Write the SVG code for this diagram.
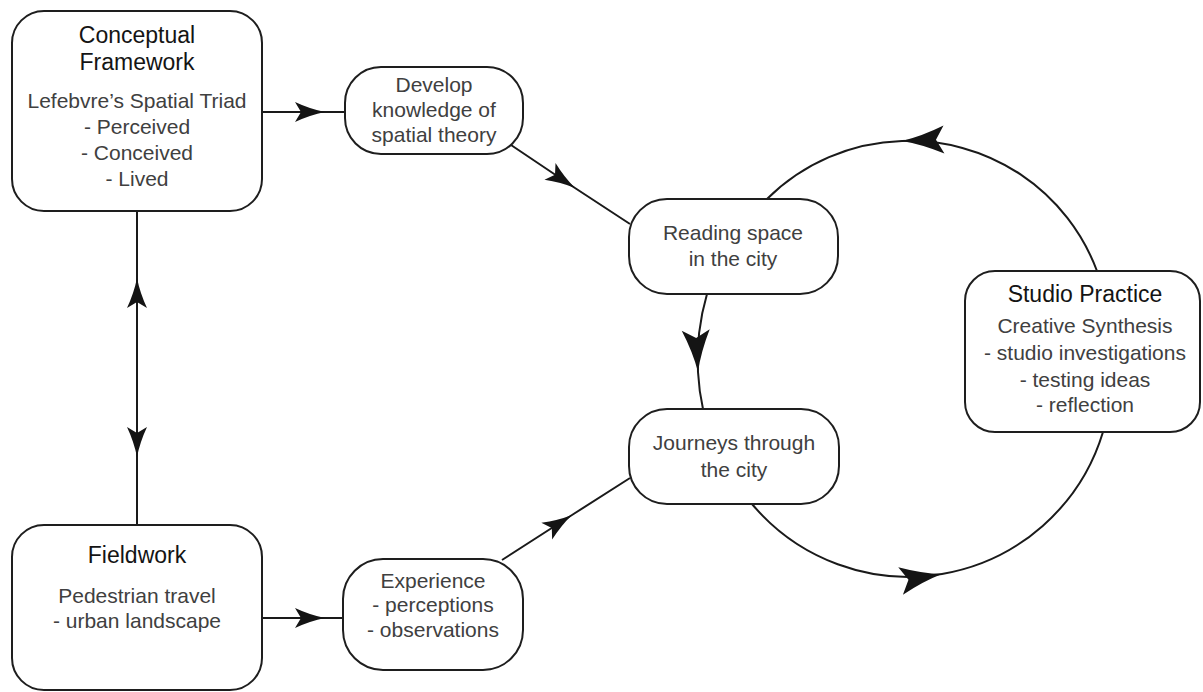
<svg xmlns="http://www.w3.org/2000/svg" width="1203" height="692" viewBox="0 0 1203 692">
<style>
.box{fill:#fff;stroke:#1e1e1e;stroke-width:2}
.t{font-family:"Liberation Sans",Arial,sans-serif;font-size:23px;fill:#141414;text-anchor:middle}
.b{font-family:"Liberation Sans",Arial,sans-serif;font-size:21px;fill:#404040;text-anchor:middle}
.c{fill:none;stroke:#1a1a1a;stroke-width:2}
.s{marker-mid:url(#ah)}
.l{marker-mid:url(#ahl)}
</style>
<defs>
<marker id="ah" markerUnits="userSpaceOnUse" viewBox="-32 -12 34 24" markerWidth="34" markerHeight="24" refX="0" refY="0" orient="auto" overflow="visible">
<path d="M0,0 Q-15,-3 -30,-10 L-24,0 L-30,10 Q-15,3 0,0 Z" fill="#141414"/>
</marker>
<marker id="ahl" markerUnits="userSpaceOnUse" viewBox="-44 -16 46 32" markerWidth="46" markerHeight="32" refX="0" refY="0" orient="auto" overflow="visible">
<path d="M0,0 Q-20,-4 -42,-14 L-34,0 L-42,14 Q-20,4 0,0 Z" fill="#141414"/>
</marker>
</defs>
<rect width="1203" height="692" fill="#fff"/>
<g id="connectors">
<path class="c s" d="M262,112 L325,112 L345,112"/>
<path class="c s" d="M511,145 L575,188 L630,224"/>
<path class="c s" d="M137,368 L137,278 L137,211"/>
<path class="c s" d="M137,368 L137,457 L137,525"/>
<path class="c s" d="M262,618 L325,618 L343,618"/>
<path class="c s" d="M502,560 L572,515 L630,478"/>
<path class="c l" d="M707,294 A233,233 0 0 0 698,372 A233,233 0 0 0 703,409"/>
<path class="c l" d="M752,504 A204,204 0 0 0 942,574 A204,204 0 0 0 1103,432"/>
<path class="c l" d="M1097,271 A200,200 0 0 0 902,141 A200,200 0 0 0 767,199"/>
</g>
<g id="conceptual">
<rect class="box" x="12" y="11" width="250" height="200" rx="32"/>
<text class="t" x="137" y="43">Conceptual</text>
<text class="t" x="137" y="70">Framework</text>
<text class="b" x="137" y="108">Lefebvre’s Spatial Triad</text>
<text class="b" x="137" y="134">- Perceived</text>
<text class="b" x="137" y="160">- Conceived</text>
<text class="b" x="137" y="186">- Lived</text>
</g>
<g id="develop">
<rect class="box" x="345" y="67" width="178" height="87" rx="36"/>
<text class="b" x="434" y="92">Develop</text>
<text class="b" x="434" y="117">knowledge of</text>
<text class="b" x="434" y="142">spatial theory</text>
</g>
<g id="reading">
<rect class="box" x="629" y="199" width="209" height="95" rx="38"/>
<text class="b" x="733" y="240">Reading space</text>
<text class="b" x="733" y="266">in the city</text>
</g>
<g id="journeys">
<rect class="box" x="629" y="409" width="210" height="95" rx="38"/>
<text class="b" x="734" y="450">Journeys through</text>
<text class="b" x="734" y="477">the city</text>
</g>
<g id="studio">
<rect class="box" x="965" y="271" width="235" height="161" rx="30"/>
<text class="t" x="1085" y="302">Studio Practice</text>
<text class="b" x="1085" y="333">Creative Synthesis</text>
<text class="b" x="1085" y="360">- studio investigations</text>
<text class="b" x="1085" y="387">- testing ideas</text>
<text class="b" x="1085" y="412">- reflection</text>
</g>
<g id="fieldwork">
<rect class="box" x="12" y="525" width="250" height="165" rx="32"/>
<text class="t" x="137" y="563">Fieldwork</text>
<text class="b" x="137" y="603">Pedestrian travel</text>
<text class="b" x="137" y="628">- urban landscape</text>
</g>
<g id="experience">
<rect class="box" x="343" y="559" width="180" height="111" rx="40"/>
<text class="b" x="433" y="588">Experience</text>
<text class="b" x="433" y="612">- perceptions</text>
<text class="b" x="433" y="637">- observations</text>
</g>
</svg>
